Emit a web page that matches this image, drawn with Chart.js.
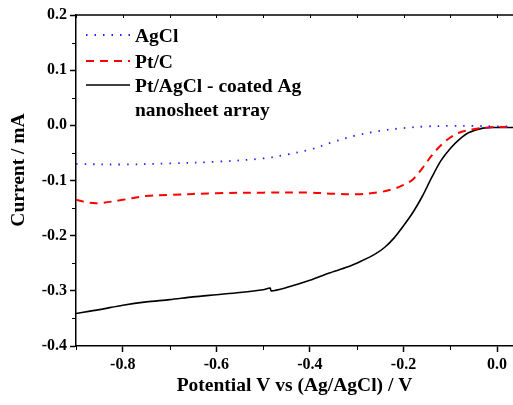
<!DOCTYPE html>
<html>
<head>
<meta charset="utf-8">
<script src="https://cdn.jsdelivr.net/npm/chart.js@4.4.0/dist/chart.umd.min.js"></script>
<style>
  html, body { margin: 0; padding: 0; background: #fff; }
</style>
</head>
<body>
<canvas id="ivChart" width="513" height="405"></canvas>
<script>
// potential (V) and current (mA)
const agclX = [-0.9, -0.8, -0.7, -0.6, -0.5, -0.45, -0.4, -0.35, -0.3, -0.25, -0.2, -0.15, -0.1, -0.05, 0.0, 0.034];
const agclY = [-0.070, -0.071, -0.069, -0.066, -0.060, -0.053, -0.044, -0.030, -0.018, -0.010, -0.005, -0.002, -0.001, -0.001, -0.002, -0.002];

const ptcX = [-0.9, -0.875, -0.85, -0.8, -0.75, -0.7, -0.6, -0.5, -0.4, -0.35, -0.3, -0.25, -0.22, -0.2, -0.18, -0.16, -0.14, -0.12, -0.1, -0.08, -0.05, -0.02, 0.0, 0.034];
const ptcY = [-0.135, -0.140, -0.141, -0.135, -0.128, -0.126, -0.123, -0.122, -0.122, -0.124, -0.125, -0.121, -0.115, -0.108, -0.098, -0.078, -0.055, -0.036, -0.022, -0.013, -0.007, -0.004, -0.003, -0.003];

const ptagX = [-0.9, -0.85, -0.8, -0.75, -0.7, -0.65, -0.6, -0.55, -0.5, -0.485, -0.483, -0.45, -0.4, -0.36, -0.32, -0.29, -0.26, -0.24, -0.22, -0.2, -0.18, -0.16, -0.14, -0.12, -0.1, -0.08, -0.06, -0.03, 0.0, 0.034];
const ptagY = [-0.341, -0.334, -0.326, -0.320, -0.316, -0.311, -0.307, -0.303, -0.298, -0.295, -0.300, -0.294, -0.281, -0.268, -0.257, -0.246, -0.233, -0.221, -0.204, -0.182, -0.158, -0.129, -0.095, -0.064, -0.042, -0.025, -0.013, -0.005, -0.004, -0.004];

const xTicks = [-0.8, -0.6, -0.4, -0.2, 0.0];
const xMinor = [-0.9, -0.7, -0.5, -0.3, -0.1];
const yTicks = [-0.4, -0.3, -0.2, -0.1, 0.0, 0.1, 0.2];
const yMinor = [-0.35, -0.25, -0.15, -0.05, 0.05, 0.15];

const serif = 'Liberation Serif, serif';

function pts(xs, ys) {
  return xs.map((x, i) => ({ x: x, y: ys[i] }));
}

const extras = {
  id: 'extras',
  afterDraw(chart) {
    const { ctx, chartArea: a, scales: { x, y } } = chart;
    ctx.save();
    ctx.strokeStyle = '#000';
    // top frame line
    ctx.lineWidth = 1.5;
    ctx.beginPath();
    ctx.moveTo(a.left, a.top);
    ctx.lineTo(a.right, a.top);
    ctx.stroke();
    // minor ticks
    ctx.lineWidth = 1;
    ctx.beginPath();
    xMinor.forEach(v => {
      const px = Math.round(x.getPixelForValue(v)) + 0.5;
      ctx.moveTo(px, a.bottom);
      ctx.lineTo(px, a.bottom + 4);
    });
    yMinor.forEach(v => {
      const py = Math.round(y.getPixelForValue(v)) + 0.5;
      ctx.moveTo(a.left, py);
      ctx.lineTo(a.left - 4, py);
    });
    // small inward ticks on the top frame
    xTicks.concat(xMinor).forEach(v => {
      const px = Math.round(x.getPixelForValue(v)) + 0.5;
      ctx.moveTo(px, a.top);
      ctx.lineTo(px, a.top + 3);
    });
    ctx.stroke();

    // y axis title, sits a little above the axis centre in the original
    ctx.fillStyle = '#000';
    ctx.font = 'bold 19.5px ' + serif;
    ctx.save();
    ctx.translate(19, 170);
    ctx.rotate(-Math.PI / 2);
    ctx.textAlign = 'center';
    ctx.textBaseline = 'middle';
    ctx.fillText('Current / mA', 0, 0);
    ctx.restore();

    // legend
    ctx.textBaseline = 'alphabetic';
    const items = [
      { color: '#1f1fff', dash: [1.5, 7], width: 1.8, y: 35, text: ['AgCl'] },
      { color: '#ff0000', dash: [8, 6], width: 2, y: 61, text: ['Pt/C'] },
      { color: '#000000', dash: [], width: 1.6, y: 85, text: ['Pt/AgCl - coated Ag', 'nanosheet array'] }
    ];
    items.forEach(it => {
      ctx.beginPath();
      ctx.strokeStyle = it.color;
      ctx.lineWidth = it.width;
      ctx.setLineDash(it.dash);
      ctx.moveTo(86, it.y);
      ctx.lineTo(130, it.y);
      ctx.stroke();
      ctx.setLineDash([]);
      it.text.forEach((t, k) => ctx.fillText(t, 135, it.y + 6.5 + k * 24.5));
    });
    ctx.restore();
  }
};

new Chart(document.getElementById('ivChart').getContext('2d'), {
  type: 'line',
  data: {
    datasets: [
      {
        label: 'AgCl',
        data: pts(agclX, agclY),
        borderColor: '#1f1fff',
        borderWidth: 1.8,
        borderDash: [1.5, 7],
        pointRadius: 0,
        tension: 0.35
      },
      {
        label: 'Pt/C',
        data: pts(ptcX, ptcY),
        borderColor: '#ff0000',
        borderWidth: 2,
        borderDash: [8, 6],
        pointRadius: 0,
        tension: 0.35
      },
      {
        label: 'Pt/AgCl - coated Ag nanosheet array',
        data: pts(ptagX, ptagY),
        borderColor: '#000000',
        borderWidth: 1.6,
        pointRadius: 0,
        tension: 0.3
      }
    ]
  },
  options: {
    responsive: false,
    animation: false,
    devicePixelRatio: 1,
    layout: { padding: { top: 15, right: 0, left: 0, bottom: 0 } },
    plugins: { legend: { display: false }, tooltip: { enabled: false } },
    scales: {
      x: {
        type: 'linear',
        min: -0.9,
        max: 0.034,
        afterBuildTicks: s => { s.ticks = xTicks.map(v => ({ value: v })); },
        afterFit: s => { s.height = 59; },
        grid: { drawOnChartArea: false, drawTicks: true, tickLength: 6, tickColor: '#000', tickWidth: 1.5 },
        border: { color: '#000', width: 1.5 },
        ticks: {
          color: '#000',
          padding: 3,
          maxRotation: 0,
          font: { family: serif, size: 16, weight: 'bold' },
          callback: v => v.toFixed(1)
        },
        title: {
          display: true,
          text: 'Potential V vs (Ag/AgCl) / V',
          color: '#000',
          padding: { top: 4, bottom: 7 },
          font: { family: serif, size: 19.5, weight: 'bold' }
        }
      },
      y: {
        type: 'linear',
        min: -0.4,
        max: 0.2,
        afterBuildTicks: s => { s.ticks = yTicks.map(v => ({ value: v })); },
        afterFit: s => { s.width = 76; },
        grid: { drawOnChartArea: false, drawTicks: true, tickLength: 6, tickColor: '#000', tickWidth: 1.5 },
        border: { color: '#000', width: 1.5 },
        ticks: {
          color: '#000',
          padding: 3,
          font: { family: serif, size: 16, weight: 'bold' },
          callback: v => v.toFixed(1)
        },
        title: { display: false }
      }
    }
  },
  plugins: [extras]
});
</script>
</body>
</html>
